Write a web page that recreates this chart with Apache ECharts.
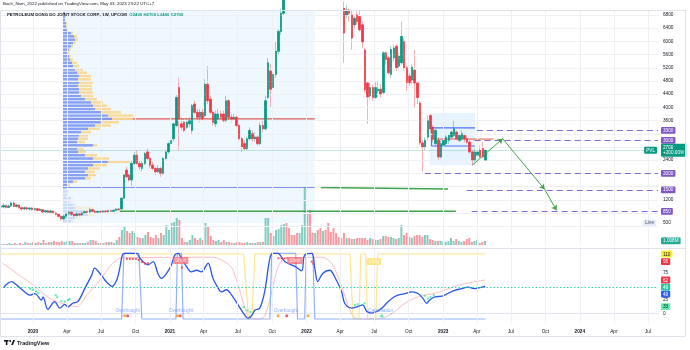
<!DOCTYPE html>
<html>
<head>
<meta charset="utf-8">
<script src="https://cdn.jsdelivr.net/npm/echarts@6/dist/echarts.min.js"></script>
<style>
html,body{margin:0;padding:0;background:#fff}
#c{width:690px;height:350px}
</style>
</head>
<body>
<div id="c"></div>
<script>
const DAY = 86400000;
const ts = s => { const [y, m, d] = s.split('-').map(Number); return Date.UTC(y, m - 1, d); };

// ---- weekly candles (PVL, UPCOM) ----
const firstWeek = '2019-10-07';
const opens = [1000,980,1030,970,1010,1100,1000,1040,960,920, 960,920,950,900,930,880,900,830,870,820,
  860,800,760,700,620,700,780,820,760,720, 780,740,800,840,830,900,850,820,850,830,
  860,840,870,850,880,920,920,1250,2100,1950, 1800,2300,2550,2300,2150,2300,2650,2450,2250,2150,
  2050,2150,2000,2450,2650,2900,3050,3450,4600,3500, 3550,3400,3500,3300,4100,3850,3700,3850,3750,4700,
  4250,3850,3500,3650,3800,3800,3600,4200,3700,3650, 3700,3450,3050,2900,2750,3050,3200,3050,3100,2900,
  3450,3350,4300,5100,4600,5000,5700,6300,6850,8800, 9300,9800,10000,9800,9300,9800,10600,12500,11400,10200,
  9500,10100,9700,9200,9400,8800,8400,8000,7700,7500, 7300,7000,6800,6950,6800,6500,6800,6750,6500,5740,
  4740,4350,4600,4300,4500,4550,4450,5650,5500,5000, 5500,5850,5250,5350,6000,5200,4950,4830,5130,4740,
  4130,2920,2800,3100,3750,3400,2900,3000,2500,2850, 2900,3000,3100,3150,3250,3000,3050,3150,3050,2950,
  2650,2400,2550,2700,2750,2400];
const closes = [980,1030,970,1010,1100,1000,1040,960,920,960, 920,950,900,930,880,910,830,870,820,860,
  800,760,700,620,700,780,820,760,720,780, 740,800,840,820,900,850,820,850,830,860,
  840,870,850,880,920,900,1250,1950,1900,1800, 2300,2550,2300,2200,2300,2600,2450,2250,2150,2050,
  2150,2000,2450,2650,2900,3000,3500,4300,3650,3400, 3300,3550,3600,4050,3850,3700,3850,3650,4700,4200,
  3850,3550,3800,3800,3700,3600,4200,3700,3650,3700, 3450,3050,2800,2750,3050,3300,3050,3100,2900,3450,
  3350,4200,5350,4550,5000,5700,6300,6850,8200,8500, 9000,9500,9600,9300,9800,10600,12300,11400,10200,9500,
  10100,9700,9200,9400,8800,8200,8000,7700,7500,7300, 7050,6250,6950,6850,6100,6700,6600,6350,5980,4530,
  4320,4600,4300,4600,4550,4400,5650,5450,5050,5750, 5800,5200,5550,6150,5200,4750,4750,5220,4740,4300,
  2920,2800,3000,3600,3350,3050,3300,2500,2900,3000, 3100,3150,3250,3350,3050,3150,3200,3050,2950,2650,
  2400,2650,2650,2500,2500,2700];
const lows = [950,950,930,950,990,980,960,930,880,900, 890,880,870,870,850,860,800,800,790,800,
  780,720,650,560,580,660,740,720,680,700, 700,720,780,790,800,820,800,800,800,810,
  810,820,830,830,860,870,900,1240,1850,1750, 1600,2250,2250,2100,2050,2250,2400,2150,2100,1950,
  2000,1900,1950,2400,2600,2850,2950,3400,2700,3300, 3250,3350,3400,3200,3800,3600,3550,3600,3700,4100,
  3800,3450,3400,3550,3600,3550,3550,3600,3550,3600, 3400,3000,2650,2700,2700,3000,2950,2950,2850,2850,
  3250,3300,4250,4000,4500,4900,5600,6200,6800,8300, 8800,9200,9300,9000,9100,9700,10500,11000,9900,9300,
  9300,9400,9000,8900,8600,8000,7800,7500,7300,7100, 7000,5350,6700,6600,5750,6400,6500,6300,5800,4450,
  3500,4250,4200,4250,4300,4300,4400,5300,5000,4900, 5400,5100,5150,5300,5100,4500,4650,4700,4000,4100,
  2850,2050,2700,3000,3250,2950,2800,2400,2450,2800, 2850,2900,3050,3100,3000,2950,3000,2950,2900,2600,
  2250,2350,2500,2450,2450,2400];
const highs = [1050,1080,1050,1060,1150,1150,1080,1060,1000,1000, 990,980,980,960,950,950,920,900,900,900,
  880,830,780,720,740,800,860,850,790,820, 800,830,880,870,950,930,900,880,870,890,
  880,900,900,920,960,950,1260,2000,2200,2000, 2400,2650,2700,2400,2400,2650,2750,2500,2350,2200,
  2250,2200,2500,2700,2950,3150,3550,4400,4900,3700, 3650,3650,3700,4100,4200,3950,3950,3950,4850,5250,
  4350,3900,3900,3950,3900,3900,4350,4250,3800,3800, 3750,3500,3100,3000,3100,3400,3300,3250,3150,3550,
  3600,4350,5500,5300,5100,6000,6400,7000,8400,9200, 9800,10300,10500,10000,10100,10900,12800,12900,11600,10500,
  10400,10400,10000,9700,9500,9000,8600,8200,7900,7700, 7400,7200,7100,7000,6950,6750,6900,6950,6600,5800,
  4800,4800,4700,4800,4800,4700,5700,5700,5550,5850, 5900,5900,5650,6600,6100,5250,5050,5300,5740,4800,
  4200,3000,3100,3770,3800,3450,3350,3100,3000,3100, 3200,3200,3300,3600,3300,3200,3300,3200,3150,3000,
  2700,2750,2750,2850,2950,2700];
// weekly volume, millions of shares
const volumesM = [0.25,0.25,0.25,0.5,0.25,0.5,0.25,0.5,0.25,0.75, 0.5,0.5,0.75,0.5,0.75,0.5,1.25,0.5,0.75,0.75,
  1,0.75,0.75,1,0.75,1,1,1,0.5,0.5, 0.5,0.5,0.5,0.75,1.25,1.25,1,0.5,0.5,0.5,
  0.75,0.75,0.75,0.5,1.25,2,3.75,4.5,3.5,3, 3.5,3,2,1.75,1.75,2.5,3.25,2,1.75,2.5,
  1.75,3,2.5,5,3.75,5.5,5.75,6.75,6.25,1.75, 0.75,0.75,1.25,2.5,1.75,1.25,1.75,1.25,5.5,4.5,
  2.25,1.25,1,1.25,0.75,1.25,0.75,0.75,0.5,0.5, 0.75,0.75,0.5,0.5,0.75,0.5,0.5,0.5,0.75,0.75,
  0.75,6.75,6.75,3,2.25,3.75,4,5,5.25,5.5, 4.25,2.5,2.5,3,3,5,14.5,7.75,8.75,3,
  3,3.75,4.25,3.5,3.75,5.5,3.25,4.25,3,2, 1.75,3,1.75,1.75,1.5,1.5,1.75,1.75,1.75,1.75,
  1.25,1.75,1.5,1.25,1.25,1.5,2.25,2.25,2,2, 1.75,1.5,1.75,5,2.5,3,2,1.75,2.25,2.5,
  2.5,2,2.5,2.5,1.5,1.25,1,1,1,1, 0.75,1,1.75,1,1.5,1,0.75,1,1.5,1.75,
  0.75,1,1.25,0.5,0.75,1.008];
const weekDates = opens.map((_, i) => ts(firstWeek) + i * 7 * DAY);

// ---- time scale ----
const xStart = '2019-10-05', xEnd = '2024-07-28';
const tickDates = ['2020-01-01','2020-04-01','2020-07-01','2020-10-01','2021-01-01','2021-04-01','2021-07-01','2021-10-01',
  '2022-01-01','2022-04-01','2022-07-01','2022-10-01','2023-01-01','2023-04-01','2023-07-01','2023-10-01',
  '2024-01-01','2024-04-01','2024-07-01'];
const tickLabels = ['2020','Apr','Jul','Oct','2021','Apr','Jul','Oct','2022','Apr','Jul','Oct','2023','Apr','Jul','Oct','2024','Apr','Jul'];

// ---- price scale ----
const priceMin = -170, priceMax = 6950;
const priceTicks = [6800,6400,6000,5600,5200,4800,4400,4000,3600,2400,1200,500,0];
const gridPrices = [400,800,1200,1600,2000,2400,2800,3200,3600,4000,4400,4800,5200,5600,6000,6400,6800];

// ---- fixed range volume profile ----
const profileFrom = '2020-03-21', profileTo = '2022-01-23';
const profileLow = 500, profileStep = 100, valueAreaLow = 1600;
const profileUp = [8,12,25,20,12,10,6,8,4,5, 4,5,10,22,25,22,25,30,45,30, 22,15,14,30,14,15,16,18,25,32,
  38,49,45,38,32,30,28,22,18,16, 16,15,16,15,16,14,12,10,9,7, 6,5,6,8,10,12,11,8,4,3, 3,2,2,2];
const profileDown = [3,6,8,12,18,3,2,2,1,1, 1,2,4,6,8,10,12,14,22,16, 12,8,7,4,8,10,9,10,12,16,
  18,21,25,20,16,14,12,12,12,14, 13,14,14,13,12,10,8,6,5,3, 2,2,2,2,3,3,3,2,1,1, 1,0,1,0];
const pocPrice = 3650, valPrice = 1590;

// small range box (late 2022)
const boxDates = ['2022-11-26','2023-03-27'];
const boxPrices = [2250, 3830];
const boxHighLine = 3380, boxLowLine = 2830, boxPocLine = 3040, boxPocEnd = '2023-05-15', boxLineStart = '2022-12-01';

// ---- drawn support lines ----
const supportADates = ['2020-08-20','2023-02-04'], supportAPrices = [850, 850];
const supportBDates = ['2022-02-08','2023-01-14'], supportBPrices = [1570, 1530];

// ---- projected levels (dashed) ----
const levelPrices = [3300, 3000, 2000, 1500, 850];
const levelStarts = ['2023-04-01','2023-03-26','2022-11-13','2023-03-05','2023-03-18'];

// ---- projected path ----
const pathDates = ['2023-03-20','2023-06-09','2023-09-29','2023-10-31'];
const pathPrices = [2250, 3050, 1520, 880];

const changeText = '+200.00%';

// ---- oscillator ----
const blueDates = ['2019-10-14','2019-11-05','2019-11-18','2019-12-10','2019-12-24','2020-01-06','2020-01-24','2020-01-28','2020-02-10','2020-02-28',
  '2020-03-13','2020-03-26','2020-04-03','2020-04-16','2020-04-30','2020-05-19','2020-06-06','2020-06-14','2020-06-28','2020-07-11',
  '2020-07-19','2020-07-30','2020-08-12','2020-08-20','2020-08-27','2020-09-02','2020-10-04','2020-10-13','2020-10-21','2020-11-04',
  '2020-11-17','2020-11-30','2020-12-09','2020-12-23','2021-01-05','2021-01-14','2021-01-23','2021-02-01','2021-02-14','2021-02-27',
  '2021-03-13','2021-03-26','2021-04-09','2021-04-13','2021-04-26','2021-05-05','2021-05-19','2021-06-01','2021-06-15','2021-07-02',
  '2021-07-20','2021-07-29','2021-08-08','2021-08-16','2021-08-29','2021-09-11','2021-09-25','2021-10-03','2021-10-16','2021-11-04',
  '2021-12-01','2021-12-19','2021-12-27','2022-01-15','2022-01-23','2022-01-31','2022-02-13','2022-03-04','2022-03-17','2022-04-05',
  '2022-04-13','2022-05-02','2022-05-18','2022-05-31','2022-06-11','2022-06-24','2022-07-08','2022-07-21','2022-08-03','2022-08-17',
  '2022-09-02','2022-09-21','2022-10-10','2022-10-26','2022-11-08','2022-11-18','2022-11-26','2022-12-10','2022-12-29','2023-01-13',
  '2023-02-01','2023-02-20','2023-03-08','2023-03-27','2023-04-15','2023-04-23'];
const blueValues = [48,59,53,40,34,37,25,31,8,22, 10,17,12,19,22,47,71,84,74,62, 56,50,62,84,108,111,111,102,96,90,
  96,74,65,74,90,108,111,102,87,77, 80,77,90,93,65,53,40,44,34,16, -3,-9,-3,6,10,40,102,111,111,96,
  87,79,108,111,84,59,74,80,68,40, 19,10,13,16,4,1,4,10,19,28, 34,37,40,37,28,19,25,31,32,37, 43,46,49,46,49,50];

const obDates = ['2019-10-05','2020-08-25','2020-08-31','2020-10-10','2020-10-18','2021-01-17','2021-01-21','2021-02-01','2021-02-05',
  '2021-09-25','2021-09-30','2021-12-03','2021-12-08','2021-12-27','2021-12-31','2022-01-18','2022-01-23','2023-04-24'];
const obValues = [-10,-10,111,111,-10,-10,111,111,-10,-10,111,111,-10,-10,111,111,-10,-10];

const trendDates = ['2019-10-05','2021-07-17','2021-07-30','2021-08-08','2021-08-16','2022-04-27','2022-05-05','2022-05-21','2022-05-26',
  '2022-06-08','2022-06-13','2022-07-05','2022-07-10','2023-04-24'];
const trendValues = [110,110,-10,-10,110,110,-10,-10,110,110,-10,-10,110,110];

const bandDates = ['2019-10-12','2019-11-19','2020-01-01','2020-02-15','2020-03-31','2020-04-27','2020-05-24','2020-06-28','2020-08-01','2020-08-28',
  '2021-04-26','2021-06-02','2021-06-18','2021-07-07','2021-07-26','2021-08-08','2021-08-24','2021-09-11','2021-09-30','2021-10-16',
  '2021-11-04','2022-02-11','2022-03-09','2022-03-31','2022-04-19','2022-05-05','2022-05-23','2022-07-02','2022-07-29','2022-08-25',
  '2022-09-21','2022-10-26','2022-12-18','2023-02-09','2023-04-23'];
const bandUpper = [105,96,84,68,54,59,77,96,103,105, 108,102,96,77,34,-3,0,40,90,103, 108,108,102,87,53,16,-3,-5,16,56, 68,77,81,87,95];
const bandLower = [93,74,53,28,16,13,34,62,93,103, 104,93,81,41,0,-9,-10,-5,40,84, 102,104,93,59,22,-5,-10,-10,-7,4, 19,31,39,52,62];
const midLevel = 49;

const greenDotDates = ['2019-12-24','2020-01-01','2020-01-09','2020-01-15','2020-03-02','2020-03-06','2020-03-17','2020-03-26','2020-04-04','2020-04-08',
  '2021-07-17','2021-07-27','2021-08-04','2022-05-10','2022-05-18','2022-06-05','2022-11-13','2022-11-21','2022-11-29','2022-12-07'];
const greenDotValues = [46,44,41,38,34,30,23,22,25,27,12,6,3,16,17,19,33,28,30,34];
const buyMarkDates = ['2022-07-21'], buyMarkValues = [-3];
const redDotDates = ['2020-09-08','2020-09-16','2020-09-24','2020-10-02','2020-10-10','2020-10-18','2020-10-26','2020-11-03','2021-02-02',
  '2021-10-18','2021-10-26','2021-11-03','2021-11-11','2021-11-19','2021-12-03','2022-01-15','2022-01-19'];
const redDotValues = [101,101,101,101,99,95,92,93,85,102,102,102,102,102,93,96,92];
const orangeMarkDates = ['2020-09-02','2021-01-21','2021-10-17','2022-01-05'];
const redMarkDates = ['2020-09-10','2021-01-28','2021-11-09'];
const markLevel = -4;
const overboughtDates = ['2020-09-10','2021-01-31','2021-11-07'], overboughtLevel = 6;
const shortDates = ['2021-01-30','2021-12-01'], shortLevel = 98;
const longDates = ['2022-06-30'], longLevel = 96;
const capitulationDates = ['2022-07-18'], capitulationLevel = 6;

const oscTagTexts = ['110','96','75','62','49','49','25','33','0','-10'];
const oscTagLevels = [110, 96, 75, 62, 49, 36, 25, 12.7, 0, -10];
const oscTagKinds = ['yel','red','plain','red','mint','blue','plain','lime','plain','blue'];

// ---------------------------------------------------------------
const FONT = '"Liberation Sans", Arial, sans-serif';
const FS = 4.7;
const UP = '#089981', DOWN = '#f23645';
const CLEAR = 'rgba(0,0,0,0)';
const mainTop = 10, mainHeight = 235;
const pxPerPrice = mainHeight / (priceMax - priceMin);
const profileHigh = profileLow + profileUp.length * profileStep;
const tickTs = tickDates.map(ts);
const last = opens.length - 1;

const nearestIndex = (list, v) => {
  let best = 0;
  list.forEach((t, i) => { if (Math.abs(t - v) < Math.abs(list[best] - v)) best = i; });
  return best;
};
const tickLabelOf = v => {
  const s = tickLabels[nearestIndex(tickTs, v)];
  return /^\d{4}$/.test(s) ? '{y|' + s + '}' : s;
};
const oscTagOf = v => {
  const i = nearestIndex(oscTagLevels, v);
  return '{' + oscTagKinds[i] + '|' + oscTagTexts[i] + '}';
};

const tagBox = (bg, fg) => ({ backgroundColor: bg, color: fg, fontSize: FS, padding: [1.2, 2, 0.6, 2], borderRadius: 1, fontFamily: FONT });

const seg = (name, dates, prices, color, width) => ({
  name, type: 'line', xAxisIndex: 0, yAxisIndex: 0, silent: true, symbol: 'none',
  data: dates.map((d, i) => [ts(d), prices[i]]),
  lineStyle: { color, width }, z: 3
});

const series = [];

// backdrop: grid lines and the profile window
series.push({
  type: 'line', xAxisIndex: 0, yAxisIndex: 0, data: [], silent: true, z: 1,
  markArea: {
    silent: true,
    data: [
      [{ xAxis: ts(profileFrom), yAxis: profileLow, itemStyle: { color: 'rgba(33,150,243,0.07)' } }, { xAxis: ts(profileTo), yAxis: priceMax }],
      [{ xAxis: ts(boxDates[0]), yAxis: boxPrices[0], itemStyle: { color: 'rgba(33,150,243,0.11)' } }, { xAxis: ts(boxDates[1]), yAxis: boxPrices[1] }]
    ]
  },
  markLine: {
    silent: true, symbol: 'none', label: { show: false },
    lineStyle: { color: '#eef0f4', width: 1, type: 'solid' },
    data: [...gridPrices.map(p => ({ yAxis: p })), ...tickTs.map(t => ({ xAxis: t }))]
  }
});

// volume profile rows
const binNames = profileUp.map((_, i) => String(profileLow + i * profileStep));
const rowOpacity = i => (profileLow + i * profileStep >= valueAreaLow ? 0.9 : 0.3);
series.push({
  type: 'bar', xAxisIndex: 2, yAxisIndex: 2, stack: 'vp', silent: true, barCategoryGap: '25%', z: 2,
  itemStyle: { color: '#7b96f1' },
  data: profileUp.map((v, i) => ({ value: v, itemStyle: { opacity: rowOpacity(i) } }))
});
series.push({
  type: 'bar', xAxisIndex: 2, yAxisIndex: 2, stack: 'vp', silent: true, barCategoryGap: '25%', z: 2,
  itemStyle: { color: '#f8d690' },
  data: profileDown.map((v, i) => ({ value: v, itemStyle: { opacity: rowOpacity(i) } }))
});

// POC / value-area low / supports
const poc = seg('POC', [profileFrom, profileTo], [pocPrice, pocPrice], '#e05a50', 1.2);
poc.z = 1;
poc.markLine = {
  silent: true, symbol: 'none',
  data: [{ yAxis: 500, lineStyle: { color: CLEAR }, label: { show: true, position: 'insideEnd', distance: 2, formatter: 'Line', ...tagBox('#e3ecfb', '#555') } }]
};
series.push(poc);
series.push(seg('VAL', [profileFrom, profileTo], [valPrice, valPrice], '#4f72f0', 1.5));
const supA = seg('Support A', supportADates, supportAPrices, '#3fa34d', 1.5);
supA.markLine = {
  silent: true, symbol: 'none',
  lineStyle: { color: '#8466d8', width: 1.2, type: [6, 4] },
  label: { show: true, position: 'end', distance: 3, formatter: '{b}', ...tagBox('#7e57c2', '#fff') },
  data: levelPrices.map((p, i) => [{ coord: [ts(levelStarts[i]), p], name: String(p) }, { coord: [ts(xEnd), p] }])
};
series.push(supA);
series.push(seg('Support B', supportBDates, supportBPrices, '#3fa34d', 1.5));
series.push(seg('Box high', [boxLineStart, boxDates[1]], [boxHighLine, boxHighLine], '#4f72f0', 1.2));
series.push(seg('Box low', [boxLineStart, boxDates[1]], [boxLowLine, boxLowLine], '#4f72f0', 1.2));
series.push(seg('Box edge', [boxLineStart, boxLineStart], [boxLowLine, boxHighLine], '#4f72f0', 1.2));
series.push(seg('Box POC', [boxLineStart, boxPocEnd], [boxPocLine, boxPocLine], '#e05a50', 1));

// candles: pale wicks underneath, solid bodies on top
series.push({
  type: 'candlestick', xAxisIndex: 0, yAxisIndex: 0, silent: true, clip: true, barWidth: 2, z: 4,
  encode: { x: 0, y: [1, 2, 3, 4] },
  data: weekDates.map((t, i) => [t, opens[i], closes[i], lows[i], highs[i]]),
  itemStyle: { color: 'rgba(8,153,129,0.4)', color0: 'rgba(242,54,69,0.4)', borderColor: 'rgba(8,153,129,0.4)', borderColor0: 'rgba(242,54,69,0.4)', borderWidth: 1 }
});
series.push({
  type: 'candlestick', xAxisIndex: 0, yAxisIndex: 0, silent: true, clip: true, barWidth: 2, z: 5,
  encode: { x: 0, y: [1, 2, 3, 4] },
  data: weekDates.map((t, i) => [t, opens[i], closes[i], Math.min(opens[i], closes[i]), Math.max(opens[i], closes[i])]),
  itemStyle: { color: UP, color0: DOWN, borderColor: UP, borderColor0: DOWN, borderWidth: 0.5 },
  markLine: {
    silent: true, symbol: 'none',
    data: [
      { yAxis: closes[last], lineStyle: { color: 'rgba(8,153,129,0.22)', type: 'solid', width: 1 },
        label: { show: true, position: 'end', distance: 3, formatter: closes[last] + '\n' + changeText, lineHeight: 5.5, ...tagBox(UP, '#fff') } },
      { yAxis: closes[last], lineStyle: { color: CLEAR },
        label: { show: true, position: 'insideEnd', distance: 1, formatter: 'PVL', ...tagBox(UP, '#fff') } }
    ]
  }
});

// volume
series.push({
  type: 'bar', xAxisIndex: 1, yAxisIndex: 1, silent: true, barWidth: 2, z: 2,
  data: weekDates.map((t, i) => ({ value: [t, volumesM[i]], itemStyle: { color: closes[i] >= opens[i] ? 'rgba(8,153,129,0.5)' : 'rgba(242,54,69,0.5)' } })),
  markLine: {
    silent: true, symbol: 'none',
    data: [{ yAxis: volumesM[last], lineStyle: { color: CLEAR },
      label: { show: true, position: 'end', distance: 3, formatter: volumesM[last].toFixed(3) + 'M', ...tagBox('#22ab94', '#fff') } }]
  }
});

// projected path
series.push({
  type: 'lines', coordinateSystem: 'cartesian2d', xAxisIndex: 0, yAxisIndex: 0, silent: true, z: 6,
  symbol: ['none', 'arrow'], symbolSize: 5,
  lineStyle: { color: '#43a047', width: 1, opacity: 1, curveness: 0 },
  data: pathDates.slice(1).map((d, i) => ({ coords: [[ts(pathDates[i]), pathPrices[i]], [ts(d), pathPrices[i + 1]]] }))
});

// ---- oscillator pane ----
const osc = { xAxisIndex: 3, yAxisIndex: 3, silent: true };
series.push({
  ...osc, type: 'line', data: [], z: 1,
  markLine: { silent: true, symbol: 'none', label: { show: false }, lineStyle: { color: '#eef0f4', width: 1, type: 'solid' },
    data: tickTs.map(t => ({ xAxis: t })) }
});
series.push({
  ...osc, type: 'line', stack: 'band', symbol: 'none', smooth: 0.3,
  data: bandDates.map((d, i) => [ts(d), bandLower[i]]),
  lineStyle: { color: 'rgba(242,54,69,0.4)', width: 0.8 }
});
series.push({
  ...osc, type: 'line', stack: 'band', symbol: 'none', smooth: 0.3,
  data: bandDates.map((d, i) => [ts(d), bandUpper[i] - bandLower[i]]),
  lineStyle: { color: 'rgba(242,54,69,0.4)', width: 0.8 },
  areaStyle: { color: 'rgba(242,54,69,0.2)' }
});
series.push({
  ...osc, type: 'line', symbol: 'none', data: trendDates.map((d, i) => [ts(d), trendValues[i]]),
  lineStyle: { color: '#fde68c', width: 1.2 }
});
series.push({
  ...osc, type: 'line', symbol: 'none', data: obDates.map((d, i) => [ts(d), obValues[i]]),
  lineStyle: { color: '#93b3f7', width: 1.2 }
});
series.push({
  ...osc, type: 'line', symbol: 'none', smooth: 0.35, data: blueDates.map((d, i) => [ts(d), blueValues[i]]),
  lineStyle: { color: '#2a55e6', width: 1.3 }, z: 4,
  markLine: { silent: true, symbol: 'none', label: { show: false },
    lineStyle: { color: '#2fd3a4', width: 1, type: [1.5, 2] }, data: [{ yAxis: midLevel }] }
});
const dots = (dates, vals, color, symbol, size) => ({
  ...osc, type: 'scatter', symbol, symbolSize: size, z: 5,
  itemStyle: { color }, data: dates.map((d, i) => [ts(d), Array.isArray(vals) ? vals[i] : vals])
});
series.push(dots(greenDotDates, greenDotValues, '#2ee89a', 'rect', 2));
series.push(dots(buyMarkDates, buyMarkValues, '#2ee89a', 'triangle', 4));
series.push(dots(redDotDates, redDotValues, '#f23645', 'rect', 2));
series.push(dots(orangeMarkDates, markLevel, '#ff9800', 'circle', 3));
series.push(dots(redMarkDates, markLevel, '#f23645', 'circle', 3));
const tags = (dates, level, text, lbl) => ({
  ...osc, type: 'scatter', symbolSize: 0, z: 6,
  data: dates.map(d => [ts(d), level]),
  label: { show: true, position: 'inside', formatter: text, fontFamily: FONT, ...lbl }
});
series.push(tags(overboughtDates, overboughtLevel, 'Overbought', { color: '#7496f0', fontSize: FS }));
series.push(tags(capitulationDates, capitulationLevel, 'Capitulation', { color: '#7496f0', fontSize: FS }));
series.push(tags(shortDates, shortLevel, 'Short', tagBox('#f5727a', '#fff')));
series.push(tags(longDates, longLevel, 'Long', tagBox('#fbe16a', '#fff')));

const hiddenAxis = { show: false };
const option = {
  animation: false,
  backgroundColor: '#ffffff',
  textStyle: { fontFamily: FONT },
  title: [
    { left: 3, top: 2, padding: 0, text: 'Bach_Nam_2022 published on TradingView.com, May 03, 2023 23:22 UTC+7',
      textStyle: { fontSize: 4.4, fontWeight: 'normal', color: '#131722', fontFamily: FONT } },
    { left: 7, top: 12.5, padding: 0,
      text: '{n|PETROLEUM DONG DO JOINT STOCK CORP., 1W, UPCOM}  {v|O' + opens[last] + ' H' + highs[last] + ' L' + lows[last] + ' C' + closes[last] + '}',
      textStyle: { fontSize: 4.3, fontFamily: FONT, rich: { n: { fontSize: 4.3, color: '#131722', fontFamily: FONT }, v: { fontSize: 4.3, color: UP, fontFamily: FONT } } } },
    { left: 17, top: 340, padding: 0, text: 'TradingView', textStyle: { fontSize: 5.5, fontWeight: 'bold', color: '#131722', fontFamily: FONT } }
  ],
  grid: [
    { left: 0, right: 32, top: mainTop, height: mainHeight },
    { left: 0, right: 32, top: 185, height: 60 },
    { left: 63, width: 100, top: mainTop + (priceMax - profileHigh) * pxPerPrice, height: (profileHigh - profileLow) * pxPerPrice },
    { left: 0, right: 32, top: 249, height: 74 }
  ],
  xAxis: [
    { gridIndex: 0, type: 'time', min: ts(xStart), max: ts(xEnd), ...hiddenAxis },
    { gridIndex: 1, type: 'time', min: ts(xStart), max: ts(xEnd), ...hiddenAxis },
    { gridIndex: 2, type: 'value', min: 0, max: 100, ...hiddenAxis },
    // same epoch-ms scale as the time axes, kept as a value axis so the quarter labels can be placed directly
    { gridIndex: 3, type: 'value', min: ts(xStart), max: ts(xEnd),
      axisLine: { show: true, lineStyle: { color: '#e0e3eb' } }, axisTick: { show: false }, splitLine: { show: false },
      axisLabel: { customValues: tickTs, formatter: tickLabelOf, fontSize: FS, color: '#131722', margin: 6, fontFamily: FONT,
        rich: { y: { fontSize: FS, fontWeight: 'bold', color: '#131722', fontFamily: FONT } } } }
  ],
  yAxis: [
    { gridIndex: 0, type: 'value', position: 'right', min: priceMin, max: priceMax,
      axisLine: { show: false }, axisTick: { show: false }, splitLine: { show: false },
      axisLabel: { customValues: priceTicks, formatter: v => String(v), fontSize: FS, color: '#131722', margin: 5, fontFamily: FONT } },
    { gridIndex: 1, type: 'value', min: 0, max: 15, ...hiddenAxis },
    { gridIndex: 2, type: 'category', data: binNames, ...hiddenAxis },
    { gridIndex: 3, type: 'value', position: 'right', min: -17.4, max: 119.2,
      axisLine: { show: false }, axisTick: { show: false }, splitLine: { show: false },
      axisLabel: { customValues: oscTagLevels, formatter: oscTagOf, margin: 3, fontSize: FS, color: '#131722', fontFamily: FONT,
        rich: {
          yel: tagBox('#ffeb3b', '#131722'), red: tagBox('#f23645', '#fff'), mint: tagBox('#22c99a', '#fff'),
          blue: tagBox('#2962ff', '#fff'), lime: tagBox('#5cf0a8', '#131722'), plain: { fontSize: FS, color: '#131722', padding: [0, 2], fontFamily: FONT }
        } } }
  ],
  series,
  graphic: [
    { type: 'rect', shape: { x: 0.5, y: 10.5, width: 685, height: 326 }, style: { fill: 'none', stroke: '#e0e3eb', lineWidth: 1 }, silent: true, z: 100 },
    { type: 'line', shape: { x1: 0.5, y1: 248.5, x2: 685.5, y2: 248.5 }, style: { stroke: '#e0e3eb', lineWidth: 1 }, silent: true, z: 100 },
    { type: 'rect', shape: { x: 4, y: 340, width: 4.5, height: 1.6 }, style: { fill: '#131722' }, silent: true },
    { type: 'rect', shape: { x: 5.8, y: 340, width: 1.6, height: 5 }, style: { fill: '#131722' }, silent: true },
    { type: 'circle', shape: { cx: 10.2, cy: 341, r: 1 }, style: { fill: '#131722' }, silent: true },
    { type: 'polygon', shape: { points: [[11.2, 345], [13.2, 340], [15, 340], [13, 345]] }, style: { fill: '#131722' }, silent: true }
  ]
};

const chart = echarts.init(document.getElementById('c'), null, { renderer: 'canvas' });
chart.setOption(option);
</script>
</body>
</html>
